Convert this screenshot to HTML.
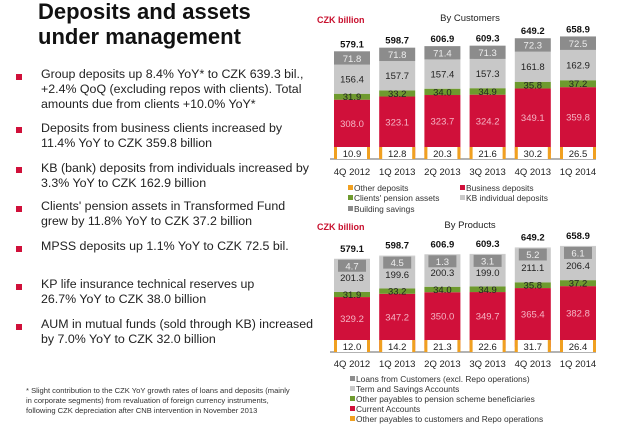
<!DOCTYPE html>
<html><head><meta charset="utf-8">
<style>
body{margin:0;width:640px;height:429px;background:#fff;font-family:"Liberation Sans",sans-serif;position:relative;overflow:hidden;color:#111}
h1{position:absolute;left:38px;top:-1px;margin:0;font-size:22px;line-height:25px;font-weight:bold}
.b{position:absolute;left:41px;font-size:12.4px;line-height:15px;white-space:nowrap;color:#222}
.sq{position:absolute;left:16px;width:6px;height:6px;background:#d0103a}
.fn{position:absolute;left:26px;top:386px;font-size:7.6px;line-height:10px;color:#333;white-space:nowrap}
svg{position:absolute;left:0;top:0}
</style></head><body>
<h1>Deposits and assets<br>under management</h1>
<div class="sq" style="top:74px"></div>
<div class="b" style="top:67px">Group deposits up 8.4% YoY* to CZK 639.3 bil.,<br>+2.4% QoQ (excluding repos with clients). Total<br>amounts due from clients +10.0% YoY*</div>
<div class="sq" style="top:127px"></div>
<div class="b" style="top:121px">Deposits from business clients increased by<br>11.4% YoY to CZK 359.8 billion</div>
<div class="sq" style="top:167px"></div>
<div class="b" style="top:161px">KB (bank) deposits from individuals increased by<br>3.3% YoY to CZK 162.9 billion</div>
<div class="sq" style="top:206px"></div>
<div class="b" style="top:199px">Clients' pension assets in Transformed Fund<br>grew by 11.8% YoY to CZK 37.2 billion</div>
<div class="sq" style="top:246px"></div>
<div class="b" style="top:239px">MPSS deposits up 1.1% YoY to CZK 72.5 bil.</div>
<div class="sq" style="top:284px"></div>
<div class="b" style="top:277px">KP life insurance technical reserves up<br>26.7% YoY to CZK 38.0 billion</div>
<div class="sq" style="top:324px"></div>
<div class="b" style="top:317px">AUM in mutual funds (sold through KB) increased<br>by 7.0% YoY to CZK 32.0 billion</div>
<div class="fn">* Slight contribution to the CZK YoY growth rates of loans and deposits  (mainly<br>in corporate segments) from revaluation of foreign currency instruments,<br>following  CZK depreciation after CNB intervention in November  2013</div>
<svg id="svg" width="640" height="429"></svg>
<script>
const categories=["4Q 2012","1Q 2013","2Q 2013","3Q 2013","4Q 2013","1Q 2014"];
const custOther=[10.9,12.8,20.3,21.6,30.2,26.5];
const custBusiness=[308.0,323.1,323.7,324.2,349.1,359.8];
const custPension=[31.9,33.2,34.0,34.9,35.8,37.2];
const custIndividual=[156.4,157.7,157.4,157.3,161.8,162.9];
const custBuilding=[71.8,71.8,71.4,71.3,72.3,72.5];
const custTotals=[579.1,598.7,606.9,609.3,649.2,658.9];
const prodOther=[12.0,14.2,21.3,22.6,31.7,26.4];
const prodCurrent=[329.2,347.2,350.0,349.7,365.4,382.8];
const prodPension=[31.9,33.2,34.0,34.9,35.8,37.2];
const prodTerm=[201.3,199.6,200.3,199.0,211.1,206.4];
const prodLoans=[4.7,4.5,1.3,3.1,5.2,6.1];
const prodTotals=[579.1,598.7,606.9,609.3,649.2,658.9];
const custLegend=["Other deposits","Business deposits","Clients' pension assets","KB individual deposits","Building savings"];
const prodLegend=["Loans from Customers (excl. Repo operations)","Term and Savings Accounts","Other payables to pension scheme beneficiaries","Current  Accounts","Other payables to customers and Repo operations"];

const NS="http://www.w3.org/2000/svg",svg=document.getElementById('svg');
const C={other:"#f0a020",red:"#d0103a",green:"#6e9a2e",light:"#c8c8c8",dark:"#8c8c8c"};
function el(t,a,txt){const e=document.createElementNS(NS,t);for(const k in a)e.setAttribute(k,a[k]);if(txt!=null)e.textContent=txt;svg.appendChild(e);return e;}
function xCenter(i){return 352+i*45.2;}
function drawChart(o){
  const y=v=>o.base-v*o.k;
  const bw=36;
  let t=el('text',{x:317,y:o.top+9,'font-size':9,'font-weight':'bold',fill:'#c8102e'},'CZK billion');
  
  t=el('text',{x:470,y:o.top+7,'font-size':9.5,'text-anchor':'middle',fill:'#222'},o.title);
  
  const ax=el('line',{x1:330,x2:596,y1:o.base,y2:o.base,stroke:'#666','stroke-width':1});
  
  categories.forEach((c,i)=>{
    const cx=xCenter(i);
    let acc=0;
    const segs=[];
    o.series.forEach(s=>{
      const v=s.data[i];const y0=y(acc),y1=y(acc+v);acc+=v;
      const r=el('rect',{x:cx-bw/2,y:y1,width:bw,height:y0-y1,fill:s.color});
      
      
      segs.push({s,v,y0,y1});
    });
    segs.forEach(({s,v,y0,y1})=>{
      if(s.lab==='box'){
        const ob=el('rect',{x:cx-bw/2,y:o.base-12,width:bw,height:12,fill:C.other});
        
        const b=el('rect',{x:cx-bw/2+3,y:o.base-12,width:bw-6,height:12,fill:'#fff'});
        
        const tt=el('text',{x:cx,y:o.base-2,'font-size':9.5,'text-anchor':'middle',fill:'#222'},v.toFixed(1));
        
      } else if(s.lab==='dbox'){
        const h=12, by=Math.max(y1+1,(y0+y1)/2-h/2);
        const b=el('rect',{x:cx-14,y:by,width:28,height:h,fill:'#8c8c8c'});
        
        const tt=el('text',{x:cx,y:by+9.5,'font-size':9.5,'text-anchor':'middle',fill:'#eee'},v.toFixed(1));
        
      } else {
        let ly=(y0+y1)/2+3.5;
        if(s.key==='business'||s.key==='current') ly=(Math.min(y0,o.base-12)+y1)/2+3.5;
        if(s.key==='term') ly+=2;
        const tt=el('text',{x:cx,y:ly,'font-size':9.5,'text-anchor':'middle',fill:s.tc},v.toFixed(1));
        
      }
    });
    const tot=el('text',{x:cx,y:y(o.totals[i])-4-o.tOff,'font-size':9.5,'font-weight':'bold','text-anchor':'middle',fill:'#111'},o.totals[i].toFixed(1));
    
    const cl=el('text',{x:cx,y:o.base+o.cOff,'font-size':9.5,'text-anchor':'middle',fill:'#222'},c);
    
  });
  o.legend.forEach(L=>{
    const sq=el('rect',{x:L.x,y:L.y-6,width:5,height:5,fill:L.c});
    
    const lt=el('text',{x:L.x+6,y:L.y,'font-size':8.4,fill:'#333'},L.t);
    
  });
}
drawChart({top:14,base:159,k:0.186,tOff:0,cOff:16,title:'By Customers',totals:custTotals,
 series:[{key:'other',data:custOther,color:C.other,lab:'box'},
 {key:'business',data:custBusiness,color:C.red,tc:'#f5b5c5'},
 {key:'pension',data:custPension,color:C.green,tc:'#222'},
 {key:'individual',data:custIndividual,color:C.light,tc:'#222'},
 {key:'building',data:custBuilding,color:C.dark,lab:'dbox'}],
 legend:[{x:348,y:191,c:C.other,t:custLegend[0]},{x:460,y:191,c:C.red,t:custLegend[1]},
 {x:348,y:201,c:C.green,t:custLegend[2]},{x:460,y:201,c:C.light,t:custLegend[3]},
 {x:348,y:212,c:C.dark,t:custLegend[4]}]});
drawChart({top:221,base:352,k:0.161,tOff:3,cOff:15,title:'By Products',totals:prodTotals,
 series:[{key:'other',data:prodOther,color:C.other,lab:'box'},
 {key:'current',data:prodCurrent,color:C.red,tc:'#f5b5c5'},
 {key:'pension',data:prodPension,color:C.green,tc:'#222'},
 {key:'term',data:prodTerm,color:C.light,tc:'#222'},
 {key:'loans',data:prodLoans,color:C.light,lab:'dbox'}],
 legend:[{x:350,y:382,c:C.dark,t:prodLegend[0]},{x:350,y:392,c:C.light,t:prodLegend[1]},
 {x:350,y:402,c:C.green,t:prodLegend[2]},{x:350,y:412,c:C.red,t:prodLegend[3]},
 {x:350,y:422,c:C.other,t:prodLegend[4]}]});
</script>
</body></html>
